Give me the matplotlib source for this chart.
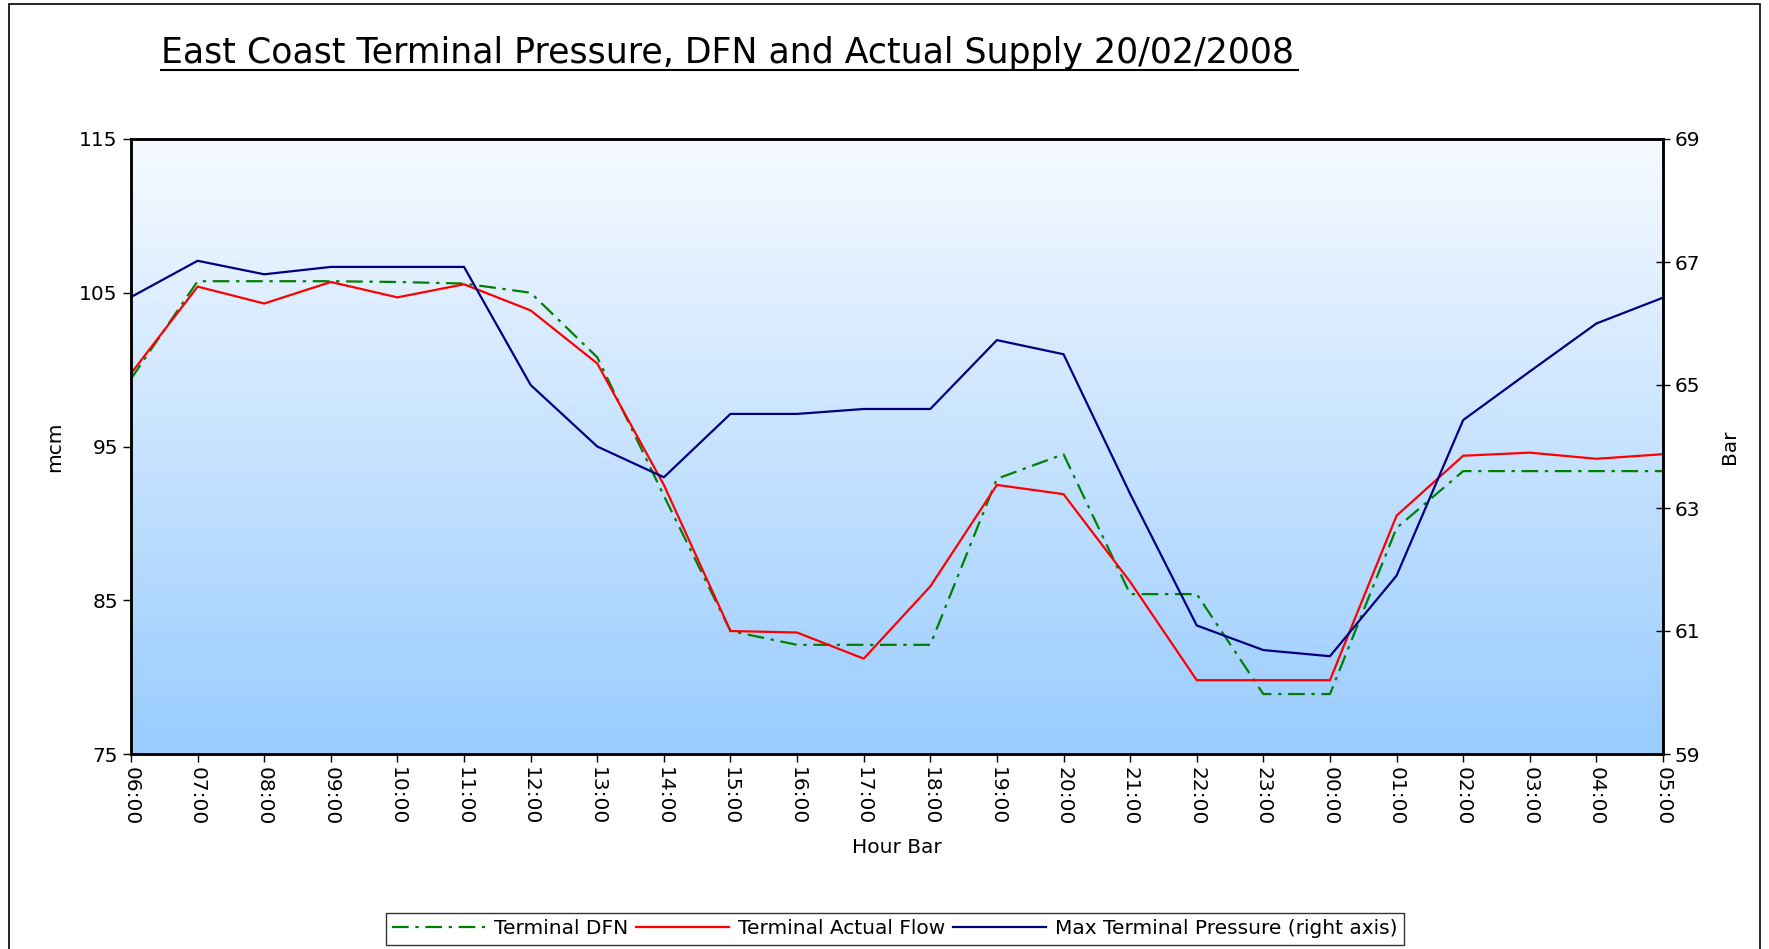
import numpy as np
import matplotlib.pyplot as plt
from matplotlib.lines import Line2D
from matplotlib.patches import Rectangle

# hourly gas-day readings, 06:00 to 05:00
hours = ["06:00", "07:00", "08:00", "09:00", "10:00", "11:00", "12:00", "13:00",
         "14:00", "15:00", "16:00", "17:00", "18:00", "19:00", "20:00", "21:00",
         "22:00", "23:00", "00:00", "01:00", "02:00", "03:00", "04:00", "05:00"]
dfn = [99.4, 105.75, 105.75, 105.75, 105.7, 105.6, 105.0, 100.8, 91.8, 83.0, 82.1, 82.1,
       82.1, 92.9, 94.5, 85.4, 85.4, 78.9, 78.9, 89.7, 93.4, 93.4, 93.4, 93.4]
actual = [99.75, 105.4, 104.3, 105.7, 104.7, 105.55, 103.85, 100.4, 92.5, 83.0, 82.9, 81.2,
          85.9, 92.5, 91.9, 86.2, 79.8, 79.8, 79.8, 90.5, 94.4, 94.6, 94.2, 94.5]
pressure = [66.43, 67.02, 66.80, 66.92, 66.92, 66.92, 65.0, 64.0, 63.5, 64.53, 64.53, 64.61,
            64.61, 65.73, 65.5, 63.23, 61.09, 60.69, 60.59, 61.9, 64.43, 65.22, 66.0, 66.42]

W, H = 1769, 949
fig = plt.figure(figsize=(W / 100, H / 100), dpi=100)
plt.rcParams['font.family'] = ['DejaVu Sans']
fs = 14.5

# outer chart frame
fig.add_artist(Rectangle((9 / W, -0.05), (1760 - 9) / W, 1.05 - 4 / H, transform=fig.transFigure,
                         fill=False, edgecolor='black', linewidth=1.2))

left, right, top, bottom = 131, 1663, 139, 754
pos = [left / W, 1 - bottom / H, (right - left) / W, (bottom - top) / H]

# gradient background
bg = fig.add_axes(pos, zorder=0)
grad = np.linspace(0, 1, 256).reshape(-1, 1)
c_top = np.array([246, 250, 255]) / 255
c_bot = np.array([153, 204, 255]) / 255
img = c_top + grad[..., None] * (c_bot - c_top)
bg.imshow(img, aspect='auto', extent=(0, 1, 0, 1))
bg.axis('off')

ax = fig.add_axes(pos, zorder=1)
ax.patch.set_alpha(0)
x = np.arange(len(hours))
l1, = ax.plot(x, dfn, color='#008000', lw=1.6, linestyle=(0, (7.5, 3, 1.5, 3)), label='Terminal DFN')
l2, = ax.plot(x, actual, color='#FF0000', lw=1.6, label='Terminal Actual Flow')
ax.set_xlim(0, len(hours) - 1)
ax.set_ylim(75, 115)
ax.set_yticks([75, 85, 95, 105, 115])
ax.set_xticks(x)
ax.set_xticklabels(hours, rotation=270, fontsize=fs)
ax.tick_params(axis='y', labelsize=fs, length=6, width=1)
ax.tick_params(axis='x', length=6, width=1)
ax.set_ylabel('mcm', fontsize=fs, labelpad=11)
ax.set_xlabel('Hour Bar', fontsize=fs, labelpad=9)
for s in ax.spines.values():
    s.set_linewidth(1.8)

ax2 = ax.twinx()
l3, = ax2.plot(x, pressure, color='#000080', lw=1.6, label='Max Terminal Pressure (right axis)')
ax2.set_ylim(59, 69)
ax2.set_yticks([59, 61, 63, 65, 67, 69])
ax2.tick_params(axis='y', labelsize=fs, length=10, width=1, direction='inout')
ax2.set_ylabel('Bar', fontsize=fs, labelpad=14)
for s in ax2.spines.values():
    s.set_linewidth(1.8)

leg = fig.legend(handles=[l1, l2, l3], loc='center', bbox_to_anchor=(895 / W, 1 - 929 / H),
                 ncols=3, fontsize=fs, frameon=True, fancybox=False, handlelength=4.6,
                 columnspacing=0.4, handletextpad=0.45, borderpad=0.3, edgecolor='black')
leg.get_frame().set_linewidth(1.0)

# underlined title
t = fig.text(161 / W, 1 - 63 / H, 'East Coast Terminal Pressure, DFN and Actual Supply 20/02/2008',
             fontsize=25, ha='left', va='baseline')
fig.canvas.draw()
bb = t.get_window_extent().transformed(fig.transFigure.inverted())
fig.add_artist(Line2D([bb.x0, bb.x1 + 4 / W], [1 - 70 / H, 1 - 70 / H], color='black', lw=1.5,
                      transform=fig.transFigure))

fig.savefig('out.png', dpi=100)
